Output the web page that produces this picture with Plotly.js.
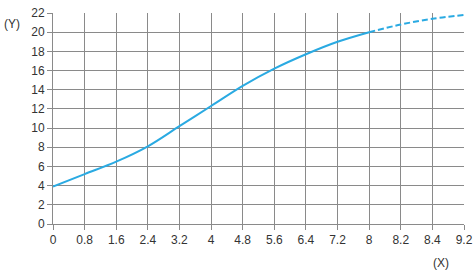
<!DOCTYPE html>
<html>
<head>
<meta charset="utf-8">
<script src="https://cdn.plot.ly/plotly-3.0.1.min.js"></script>
<style>html,body{margin:0;padding:0;background:#fff;}#chart{width:476px;height:274px;}</style>
</head>
<body>
<div id="chart"></div>
<script>
// X tick labels (equally spaced positions on the axis)
var xTickLabels = ["0","0.8","1.6","2.4","3.2","4","4.8","5.6","6.4","7.2","8","8.2","8.4","9.2"];
// Positions along the axis (tick index units)
var solidPos = [0,1,2,3,4,5,6,7,8,9,10];
var solidY   = [3.9,5.2,6.5,8.1,10.2,12.3,14.4,16.2,17.7,19.0,20.0];
var dashPos  = [10,11,12,13];
var dashY    = [20.0,20.8,21.4,21.8];
var yTicks   = [0,2,4,6,8,10,12,14,16,18,20,22];

var tickPos = xTickLabels.map(function(_, i){ return i; });
var lineColor = '#2aaae2';

var traces = [
  {x: solidPos, y: solidY, mode: 'lines', line: {color: lineColor, width: 2, shape: 'spline'}, hoverinfo: 'none'},
  {x: dashPos, y: dashY, mode: 'lines', line: {color: lineColor, width: 2, shape: 'spline', dash: '6px,3px'}, hoverinfo: 'none'}
];

var layout = {
  width: 476, height: 274,
  margin: {l: 53, r: 12, t: 13, b: 50},
  paper_bgcolor: '#fff', plot_bgcolor: '#fff',
  showlegend: false,
  font: {family: 'Liberation Sans, Arial, sans-serif', size: 12, color: '#333'},
  xaxis: {
    range: [0, 13], tickmode: 'array', tickvals: tickPos, ticktext: xTickLabels,
    showgrid: true, gridcolor: '#8a8a8a', gridwidth: 1,
    showline: true, linecolor: '#8a8a8a', linewidth: 1,
    ticks: 'outside', ticklen: 5, tickcolor: '#8a8a8a',
    zeroline: false, fixedrange: true
  },
  yaxis: {
    range: [0, 22], tickmode: 'array', tickvals: yTicks,
    showgrid: true, gridcolor: '#8a8a8a', gridwidth: 1,
    showline: true, linecolor: '#8a8a8a', linewidth: 1,
    ticks: 'outside', ticklen: 5, tickcolor: '#8a8a8a',
    zeroline: false, fixedrange: true
  },
  annotations: [
    {text: '(Y)', xref: 'paper', yref: 'paper', x: -0.1, y: 0.95, xanchor: 'center', yanchor: 'middle', showarrow: false, font: {size: 12, color: '#333'}},
    {text: '(X)', xref: 'paper', yref: 'paper', x: 0.945, y: -0.185, xanchor: 'center', yanchor: 'middle', showarrow: false, font: {size: 12, color: '#333'}}
  ]
};

Plotly.newPlot('chart', traces, layout, {staticPlot: true, displayModeBar: false});
</script>
</body>
</html>
